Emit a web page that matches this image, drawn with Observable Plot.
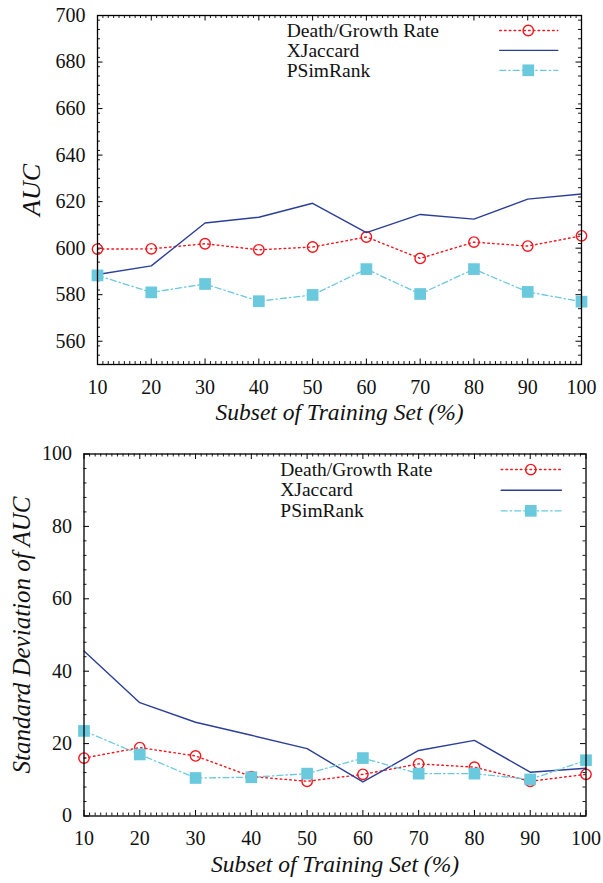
<!DOCTYPE html>
<html>
<head>
<meta charset="utf-8">
<script src="https://cdn.jsdelivr.net/npm/d3@7"></script>
<script src="https://cdn.jsdelivr.net/npm/@observablehq/plot@0.6"></script>
<style>
  html, body { margin: 0; padding: 0; background: #fff; }
  #chart { width: 603px; }
  #chart svg { display: block; }
</style>
</head>
<body>
<div id="chart"></div>
<script>
// ---- data ----
const subsets = [10, 20, 30, 40, 50, 60, 70, 80, 90, 100];
const seriesNames = ["Death/Growth Rate", "XJaccard", "PSimRank"];

const aucDeath    = [599.6, 599.7, 601.9, 599.3, 600.5, 604.8, 595.6, 602.6, 600.9, 605.3];
const aucXJaccard = [588.7, 592.4, 610.8, 613.3, 619.3, 606.7, 614.5, 612.5, 621.1, 623.3];
const aucPSimRank = [588.3, 581.0, 584.6, 577.2, 579.9, 591.0, 580.3, 591.0, 581.2, 577.0];

const sdDeath    = [16.0, 18.9, 16.6, 10.9, 9.6, 11.5, 14.4, 13.5, 9.6, 11.5];
const sdXJaccard = [45.6, 31.3, 25.9, 22.3, 18.6, 9.4, 18.1, 20.9, 12.1, 13.2];
const sdPSimRank = [23.5, 17.0, 10.5, 10.7, 11.7, 16.0, 11.7, 11.7, 10.1, 15.4];

const xTicks = [10, 20, 30, 40, 50, 60, 70, 80, 90, 100];
const aucTicks = [560, 580, 600, 620, 640, 660, 680, 700];
const sdTicks = [0, 20, 40, 60, 80, 100];

const xLabel = "Subset of Training Set (%)";
const aucLabel = "AUC";
const sdLabel = "Standard Deviation of AUC";

// ---- styles ----
const FONT = "'Liberation Serif', 'Times New Roman', serif";
const RED = "#f2161e", BLUE = "#2b3f98", CYAN = "#6ac9dc";
const styles = [
  {stroke: RED, strokeWidth: 1.4, strokeDasharray: "1.6,3.2", marker: "circle"},
  {stroke: BLUE, strokeWidth: 1.4, strokeDasharray: null, marker: null},
  {stroke: CYAN, strokeWidth: 1.3, strokeDasharray: "6,3,1.5,3", marker: "square"}
];

function panel({values, yDomain, yTicks, yMinorStep, yLabel, yLabelSize, yLabelBaseline,
                height, marginTop, marginBottom, marginLeft, marginRight}) {
  const width = 603;
  const plotW = width - marginLeft - marginRight;
  const plotH = height - marginTop - marginBottom;
  const [x0, x1] = [xTicks[0], xTicks[xTicks.length - 1]];
  const [y0, y1] = yDomain;

  const xMinor = d3.range(x0, x1 + 0.001, 1).filter(v => !xTicks.includes(v));
  const yMinor = d3.range(y0, y1 + 0.001, yMinorStep).filter(v => !yTicks.includes(v) && v !== y0);

  const major = 5.5, minor = 3;

  // legend slots as fractions of the plot frame
  const rowFrac = [0.043, 0.1, 0.157];
  const fx = f => x0 + f * (x1 - x0);
  const fy = f => y1 - f * (y1 - y0);
  const legendText = seriesNames.map((name, i) => ({name, x: fx(0.391), y: fy(rowFrac[i])}));

  const marks = [];
  // ticks (inward, mirrored)
  marks.push(Plot.tickX(xTicks, {x: d => d, insetTop: plotH - major, stroke: "black", strokeWidth: 1}));
  marks.push(Plot.tickX(xTicks, {x: d => d, insetBottom: plotH - major, stroke: "black", strokeWidth: 1}));
  marks.push(Plot.tickX(xMinor, {x: d => d, insetTop: plotH - minor, stroke: "black", strokeWidth: 0.9}));
  marks.push(Plot.tickX(xMinor, {x: d => d, insetBottom: plotH - minor, stroke: "black", strokeWidth: 0.9}));
  marks.push(Plot.tickY(yTicks, {y: d => d, insetRight: plotW - major, stroke: "black", strokeWidth: 1}));
  marks.push(Plot.tickY(yTicks, {y: d => d, insetLeft: plotW - major, stroke: "black", strokeWidth: 1}));
  marks.push(Plot.tickY(yMinor, {y: d => d, insetRight: plotW - minor, stroke: "black", strokeWidth: 0.9}));
  marks.push(Plot.tickY(yMinor, {y: d => d, insetLeft: plotW - minor, stroke: "black", strokeWidth: 0.9}));

  // series
  values.forEach((vals, i) => {
    const st = styles[i];
    const data = subsets.map((s, j) => ({x: s, y: vals[j]}));
    marks.push(Plot.line(data, {x: "x", y: "y", stroke: st.stroke, strokeWidth: st.strokeWidth,
      strokeDasharray: st.strokeDasharray}));
    const lg = [{x: fx(0.831), y: fy(rowFrac[i])}, {x: fx(0.951), y: fy(rowFrac[i])}];
    marks.push(Plot.line(lg, {x: "x", y: "y", stroke: st.stroke, strokeWidth: st.strokeWidth,
      strokeDasharray: st.strokeDasharray}));
    const lgm = [{x: fx(0.89), y: fy(rowFrac[i])}];
    if (st.marker === "circle") {
      marks.push(Plot.dot(data, {x: "x", y: "y", r: 5.2, stroke: st.stroke, strokeWidth: 1.4, fill: "none"}));
      marks.push(Plot.dot(lgm, {x: "x", y: "y", r: 5.2, stroke: st.stroke, strokeWidth: 1.4, fill: "none"}));
    } else if (st.marker === "square") {
      marks.push(Plot.dot(data, {x: "x", y: "y", r: 6.6, symbol: "square", fill: st.stroke, stroke: "none"}));
      marks.push(Plot.dot(lgm, {x: "x", y: "y", r: 6.6, symbol: "square", fill: st.stroke, stroke: "none"}));
    }
  });

  marks.push(Plot.text(legendText, {x: "x", y: "y", text: "name", textAnchor: "start",
    lineAnchor: "middle", fontSize: 19.5, fill: "#111"}));

  marks.push(Plot.frame({stroke: "black", strokeWidth: 1.3}));

  marks.push(Plot.axisX({ticks: xTicks, tickSize: 0, tickPadding: 15, label: null, fontSize: 20}));
  marks.push(Plot.axisY({ticks: yTicks, tickSize: 0, tickPadding: 12, label: null, fontSize: 20}));

  marks.push(Plot.text([xLabel], {frameAnchor: "bottom", dy: 55.5, lineAnchor: "bottom",
    fontStyle: "italic", fontSize: 23.5, fill: "#111"}));
  marks.push(Plot.text([yLabel], {frameAnchor: "left", rotate: -90, dx: yLabelBaseline - marginLeft,
    textAnchor: "middle", lineAnchor: "bottom", fontStyle: "italic", fontSize: yLabelSize, fill: "#111"}));

  return Plot.plot({
    width, height, marginTop, marginBottom, marginLeft, marginRight,
    style: {fontFamily: FONT, color: "#111", background: "white", overflow: "visible"},
    x: {domain: [x0, x1], nice: false},
    y: {domain: yDomain, nice: false},
    marks
  });
}

const chart = document.getElementById("chart");
chart.appendChild(panel({
  values: [aucDeath, aucXJaccard, aucPSimRank],
  yDomain: [550, 700], yTicks: aucTicks, yMinorStep: 4,
  yLabel: aucLabel, yLabelSize: 26, yLabelBaseline: 39.5,
  height: 430, marginTop: 15, marginBottom: 66, marginLeft: 97, marginRight: 22
}));
chart.appendChild(panel({
  values: [sdDeath, sdXJaccard, sdPSimRank],
  yDomain: [0, 100], yTicks: sdTicks, yMinorStep: 4,
  yLabel: sdLabel, yLabelSize: 25, yLabelBaseline: 29.5,
  height: 453, marginTop: 23.5, marginBottom: 67.5, marginLeft: 83.5, marginRight: 17.5
}));
</script>
</body>
</html>
